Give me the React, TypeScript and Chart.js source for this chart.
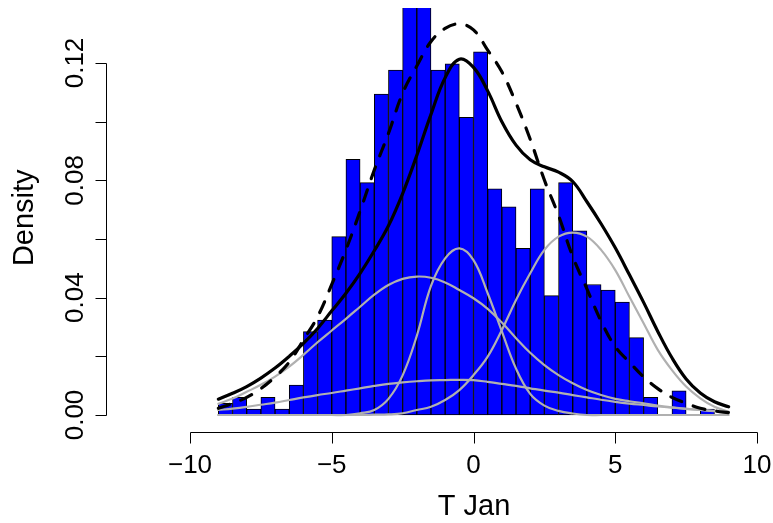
import React, { useEffect, useRef } from "react";
import { Chart, registerables } from "chart.js";

Chart.register(...registerables);

// Histogram bins (left edges), width 0.5
const binStarts = [
  -9, -8.5, -8, -7.5, -7, -6.5, -6, -5.5, -5, -4.5, -4, -3.5, -3, -2.5, -2, -1.5, -1, -0.5,
  0, 0.5, 1, 1.5, 2, 2.5, 3, 3.5, 4, 4.5, 5, 5.5, 6, 6.5, 7, 7.5, 8, 8.5,
];
const binWidth = 0.5;
const binDensity = [
  0.004, 0.006, 0.002, 0.006, 0.002, 0.0102, 0.0284, 0.0324, 0.0608, 0.0872, 0.0792, 0.1094,
  0.1176, 0.141, 0.141, 0.1176, 0.1197, 0.1015, 0.1238, 0.0771, 0.071, 0.0568, 0.0771, 0.0407,
  0.0792, 0.0628, 0.0445, 0.0426, 0.0385, 0.0264, 0.006, 0, 0.0082, 0, 0.002, 0,
];

// Curve sample positions
const curveX = [
  -9, -8.5, -8, -7.5, -7, -6.5, -6, -5.5, -5, -4.5, -4, -3.5, -3, -2.5, -2, -1.5, -1, -0.5, 0,
  0.5, 1, 1.5, 2, 2.5, 3, 3.5, 4, 4.5, 5, 5.5, 6, 6.5, 7, 7.5, 8, 8.5, 9,
];
// Mixture density (solid black)
const mixtureTotal = [
  0.0054, 0.0074, 0.0097, 0.0126, 0.016, 0.02, 0.0244, 0.0295, 0.0355, 0.0415, 0.0483, 0.056,
  0.0645, 0.0755, 0.0885, 0.1025, 0.115, 0.1213, 0.1185, 0.1105, 0.1, 0.092, 0.087, 0.0846,
  0.0828, 0.0796, 0.0727, 0.0652, 0.057, 0.0478, 0.0384, 0.0285, 0.0195, 0.0123, 0.0075, 0.0045,
  0.0028,
];
// Normal fit (dashed black)
const normalFit = [
  0.0023, 0.004, 0.006, 0.009, 0.013, 0.018, 0.0256, 0.0335, 0.0445, 0.0563, 0.0695, 0.0835,
  0.096, 0.1097, 0.119, 0.1273, 0.1318, 0.1333, 0.1313, 0.1244, 0.117, 0.1063, 0.094, 0.0801,
  0.068, 0.054, 0.043, 0.032, 0.0233, 0.018, 0.013, 0.009, 0.006, 0.004, 0.0023, 0.0014, 0.0008,
];
// Mixture components (gray)
const compFlat = [
  0.0017, 0.0022, 0.0028, 0.0035, 0.0042, 0.0051, 0.006, 0.0068, 0.0075, 0.0083, 0.0091, 0.0099,
  0.0106, 0.0111, 0.0115, 0.0118, 0.0119, 0.012, 0.0119, 0.0113, 0.0106, 0.0099, 0.0091, 0.0083,
  0.0076, 0.0068, 0.006, 0.0052, 0.0045, 0.0039, 0.0034, 0.0029, 0.0025, 0.0021, 0.0017, 0.0013,
  0.001,
];
const compLeft = [
  0.0038, 0.0056, 0.0079, 0.0103, 0.0131, 0.0165, 0.0205, 0.0248, 0.0288, 0.0328, 0.0369, 0.041,
  0.0443, 0.0464, 0.0472, 0.0468, 0.0452, 0.0426, 0.0398, 0.0362, 0.0315, 0.0262, 0.0212, 0.017,
  0.0136, 0.0108, 0.0085, 0.0068, 0.0055, 0.0047, 0.004, 0.0032, 0.0026, 0.0021, 0.0017, 0.0014,
  0.0011,
];
const compNarrow = [
  0, 0, 0, 0, 0, 0, 0, 0, 0, 0, 0.0006, 0.0017, 0.0055, 0.0135, 0.027, 0.044, 0.0534, 0.0568,
  0.0528, 0.0415, 0.0285, 0.0158, 0.0072, 0.0032, 0.0014, 0.0005, 0, 0, 0, 0, 0, 0, 0, 0, 0, 0, 0,
];
const compRight = [
  0, 0, 0, 0, 0, 0, 0, 0, 0, 0, 0, 0.0001, 0.0002, 0.0006, 0.0017, 0.0028, 0.0051, 0.0085,
  0.0136, 0.0199, 0.029, 0.0392, 0.0483, 0.0563, 0.0608, 0.0622, 0.0608, 0.0563, 0.0494, 0.0403,
  0.0313, 0.0222, 0.0153, 0.0097, 0.0057, 0.0028, 0.0011,
];

const xTickValues = [-10, -5, 0, 5, 10];
const xTickLabels = ["\u221210", "\u22125", "0", "5", "10"];
const yTickValues = [0, 0.02, 0.04, 0.06, 0.08, 0.1, 0.12];
const yLabelValues = [0, 0.04, 0.08, 0.12];
const yTickLabels = ["0.00", "0.04", "0.08", "0.12"];
const xTitle = "T Jan";
const yTitle = "Density";

const FONT = "'Liberation Sans', Arial, Helvetica, sans-serif";

const rAxesPlugin = {
  id: "rAxes",
  afterDraw(chart: any) {
    const { ctx, chartArea } = chart;
    const xs = chart.scales.x;
    const ys = chart.scales.y;
    ctx.save();
    ctx.strokeStyle = "#000";
    ctx.fillStyle = "#000";
    ctx.lineWidth = 1;
    const tick = 11;

    // x axis
    const axisY = Math.round(chartArea.bottom) + 0.5;
    const x0 = Math.round(xs.getPixelForValue(xTickValues[0])) + 0.5;
    const x1 = Math.round(xs.getPixelForValue(xTickValues[xTickValues.length - 1])) + 0.5;
    ctx.beginPath();
    ctx.moveTo(x0, axisY);
    ctx.lineTo(x1, axisY);
    xTickValues.forEach((v) => {
      const px = Math.round(xs.getPixelForValue(v)) + 0.5;
      ctx.moveTo(px, axisY);
      ctx.lineTo(px, axisY + tick);
    });
    ctx.stroke();
    ctx.font = `26px ${FONT}`;
    ctx.textAlign = "center";
    ctx.textBaseline = "alphabetic";
    xTickValues.forEach((v, i) => {
      ctx.fillText(xTickLabels[i], xs.getPixelForValue(v), axisY + 40);
    });
    ctx.font = `29px ${FONT}`;
    ctx.fillText(xTitle, (x0 + x1) / 2, axisY + 82);

    // y axis
    const axisX = Math.round(chartArea.left) + 0.5;
    const y0 = Math.round(ys.getPixelForValue(yTickValues[0])) + 0.5;
    const y1 = Math.round(ys.getPixelForValue(yTickValues[yTickValues.length - 1])) + 0.5;
    ctx.beginPath();
    ctx.moveTo(axisX, y0);
    ctx.lineTo(axisX, y1);
    yTickValues.forEach((v) => {
      const py = Math.round(ys.getPixelForValue(v)) + 0.5;
      ctx.moveTo(axisX, py);
      ctx.lineTo(axisX - tick, py);
    });
    ctx.stroke();
    ctx.font = `26px ${FONT}`;
    yLabelValues.forEach((v, i) => {
      ctx.save();
      ctx.translate(axisX - 24, ys.getPixelForValue(v));
      ctx.rotate(-Math.PI / 2);
      ctx.fillText(yTickLabels[i], 0, 0);
      ctx.restore();
    });
    ctx.font = `29px ${FONT}`;
    ctx.save();
    ctx.translate(33, (chartArea.top + chartArea.bottom) / 2 - 2);
    ctx.rotate(-Math.PI / 2);
    ctx.fillText(yTitle, 0, 0);
    ctx.restore();

    ctx.restore();
  },
};

function lineSet(values: number[], color: string, width: number, order: number, dash: number[] = []) {
  return {
    type: "line" as const,
    data: curveX.map((x, i) => ({ x, y: values[i] })),
    borderColor: color,
    borderWidth: width,
    borderDash: dash,
    borderCapStyle: "round" as const,
    borderJoinStyle: "round" as const,
    pointRadius: 0,
    fill: false,
    tension: 0.4,
    order,
  };
}

export default function App() {
  const ref = useRef<HTMLCanvasElement>(null);

  useEffect(() => {
    if (!ref.current) return;
    const gray = "#B0B0B0";
    const chart = new Chart(ref.current, {
      type: "bar",
      data: {
        datasets: [
          {
            type: "bar",
            data: binStarts.map((s, i) => ({ x: s + binWidth / 2, y: binDensity[i] })),
            backgroundColor: "#0000FF",
            borderColor: "#000000",
            borderWidth: 1,
            borderSkipped: false,
            barPercentage: 1,
            categoryPercentage: 1,
            clip: 0,
            order: 10,
          } as any,
          lineSet(compFlat, gray, 2.2, 6),
          lineSet(compLeft, gray, 2.2, 6),
          lineSet(compNarrow, gray, 2.2, 6),
          lineSet(compRight, gray, 2.2, 6),
          lineSet(normalFit, "#000000", 3.2, 3, [12, 12]),
          lineSet(mixtureTotal, "#000000", 3.2, 1),
        ] as any,
      },
      options: {
        responsive: false,
        animation: false,
        devicePixelRatio: 1,
        events: [],
        layout: { padding: { left: 106, right: 8, top: 8, bottom: 91.5 } },
        plugins: { legend: { display: false }, tooltip: { enabled: false } },
        scales: {
          x: { type: "linear", min: -12.963, max: 10.282, display: false, offset: false },
          y: { type: "linear", min: -0.005625, max: 0.13875, display: false },
        },
      },
      plugins: [rAxesPlugin],
    });
    return () => chart.destroy();
  }, []);

  return (
    <div style={{ position: "fixed", left: 0, top: 0, width: 773, height: 523, background: "#fff" }}>
      <canvas ref={ref} width={773} height={523} style={{ display: "block", width: 773, height: 523 }} />
    </div>
  );
}
